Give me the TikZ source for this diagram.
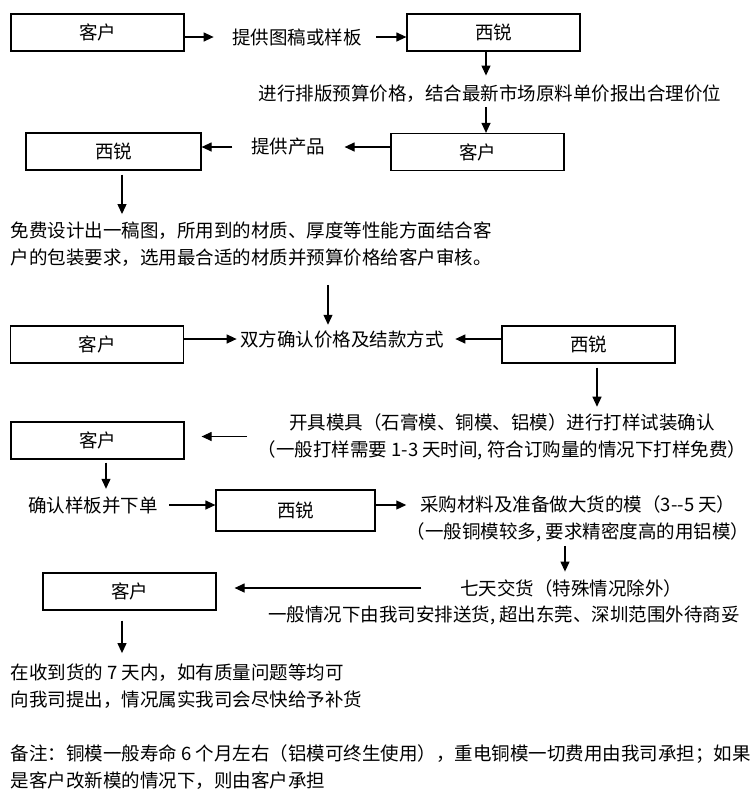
\documentclass[tikz,border=0pt]{standalone}
\usepackage{fontspec}
\setmainfont{Noto Sans CJK SC}
\usetikzlibrary{arrows.meta}

\begin{document}
\begin{tikzpicture}[x=1pt, y=-1pt, line width=1.2pt,
  >={Triangle[length=10pt,width=9pt]},
  font=\fontsize{18.5}{27}\selectfont,
  main node/.style={draw, minimum width=173pt, minimum height=37pt, inner sep=0pt},
  text node/.style={inner sep=0pt, align=center}]
\useasboundingbox (0,0) rectangle (750,796);
\node[main node]                                       (1)   at (97.5,32.5)  {客户};
\node[text node]                                       (t1)  at (297,37)     {提供图稿或样板};
\node[main node]                                       (2)   at (493.5,32.5) {西锐};
\node[text node]                                       (t2)  at (490,94)     {进行排版预算价格，结合最新市场原料单价报出合理价位};
\node[main node]                                       (3)   at (477.5,152)  {客户};
\node[main node, minimum width=175pt]                  (4)   at (113.5,151.5) {西锐};
\node[text node]                                       (t3)  at (288,147)    {提供产品};
\node[text node, align=left, anchor=west]              (t4)  at (10,244)     {免费设计出一稿图，所用到的材质、厚度等性能方面结合客\\户的包装要求，选用最合适的材质并预算价格给客户审核。};
\node[main node]                                       (5)   at (97,344.5)   {客户};
\node[text node]                                       (t5)  at (342,339)    {双方确认价格及结款方式};
\node[main node]                                       (6)   at (588.5,344.5) {西锐};
\node[text node]                                       (t6)  at (502,436.5)  {开具模具（石膏模、铜模、铝模）进行打样试装确认\\（一般打样需要 1-3 天时间, 符合订购量的情况下打样免费）};
\node[main node]                                       (7)   at (97.5,440.5) {客户};
\node[text node]                                       (t7)  at (93,505)     {确认样板并下单};
\node[main node, minimum width=159pt, minimum height=41pt] (8) at (295.5,510.5) {西锐};
\node[text node]                                       (t8)  at (578,519)    {采购材料及准备做大货的模（3-{}-5 天）\\（一般铜模较多, 要求精密度高的用铝模）};
\node[text node]                                       (t9)  at (571,588)    {七天交货（特殊情况除外）};
\node[text node]                                       (t10) at (504,615)    {一般情况下由我司安排送货, 超出东莞、深圳范围外待商妥};
\node[main node]                                       (9)   at (129.5,591.5) {客户};
\node[text node, align=left, anchor=west]              (t11) at (10,686)     {在收到货的 7 天内，如有质量问题等均可\\向我司提出，情况属实我司会尽快给予补货};
\node[text node, align=left, anchor=west]              (t12) at (10,767.5)   {备注：铜模一般寿命 6 个月左右（铝模可终生使用），重电铜模一切费用由我司承担；如果\\是客户改新模的情况下，则由客户承担};
\path[->]
(1.east |- t1) edge[shorten >=18pt] (t1)
(t1)           edge[shorten <=14pt] (2.west |- t1)
([xshift=-7.5pt]2.south) edge[shorten >=9pt] ([xshift=-7.5pt]2.south |- t2.north)
([xshift=-7.5pt]2.south |- t2.south) edge[shorten <=4pt] ([xshift=-7.5pt]2.south |- 3.north)
(3.west |- t3) edge[shorten >=19pt] (t3)
(t3)           edge[shorten <=18pt] (4.east |- t3)
([xshift=8.5pt]4.south) edge[shorten <=4pt, shorten >=7pt] ([xshift=8.5pt]4.south |- t4.north)
([xshift=-14pt]t5.north |- t4.south) edge[shorten <=18pt, shorten >=5pt] ([xshift=-14pt]t5.north)
(5.east |- t5) edge[shorten >=3pt] (t5)
(6.west |- t5) edge[shorten >=11pt] (t5)
([xshift=8.5pt]6.south) edge[shorten <=4pt, shorten >=6pt] ([xshift=8.5pt]6.south |- t6.north)
([xshift=-10pt]t6.west) edge[shorten >=17pt] (7.east |- t6.west)
([xshift=8.5pt]7.south) edge[shorten <=3pt, shorten >=7pt] ([xshift=8.5pt]7.south |- t7.north)
(t7)           edge[shorten <=11pt] (8.west |- t7)
([yshift=5.5pt]8.east) edge ([yshift=14pt]t8.west)
([xshift=-6pt]t9.north |- t8.south) edge[shorten <=3pt, shorten >=7pt] ([xshift=-6pt]t9.north)
(t9)           edge[shorten <=38pt, shorten >=18pt] (9.east |- t9)
([xshift=-7.5pt]9.south) edge[shorten <=10pt, shorten >=10pt] ([xshift=-7.5pt]9.south |- t11.north);
\end{tikzpicture}
\end{document}
